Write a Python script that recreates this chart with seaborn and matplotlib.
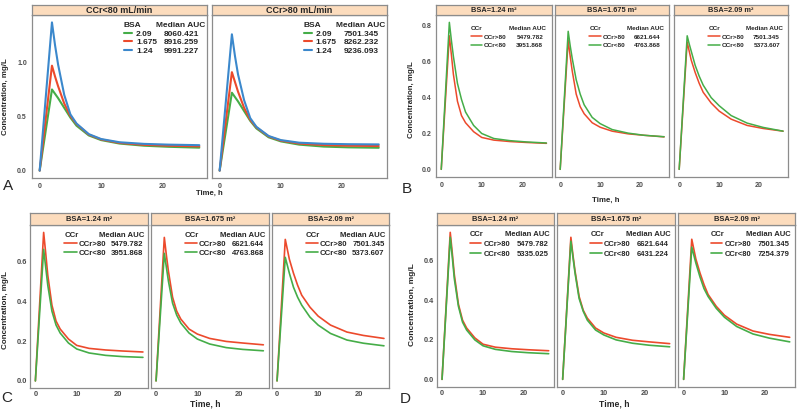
import numpy as np
import pandas as pd
import matplotlib
matplotlib.use('Agg')
import matplotlib.pyplot as plt
import seaborn as sns
from matplotlib.lines import Line2D

sns.set_style('white')
plt.rcParams['font.family'] = ['Liberation Sans', 'DejaVu Sans']
plt.rcParams['font.weight'] = 'bold'

# sampling times, h
time_h = [0, 2, 2.5, 3, 4, 5, 6, 8, 10, 13, 17, 21, 26]

# ---- panel A: curves by BSA, one facet per CCr group ----
a_titles = ['CCr<80 mL/min', 'CCr>80 mL/min']
a_groups = ['2.09', '1.675', '1.24']
a_low_209 = [0, 0.75, 0.71, 0.67, 0.58, 0.49, 0.415, 0.325, 0.282, 0.25, 0.23, 0.22, 0.212]
a_low_1675 = [0, 0.97, 0.87, 0.78, 0.62, 0.505, 0.43, 0.333, 0.288, 0.256, 0.238, 0.23, 0.224]
a_low_124 = [0, 1.37, 1.16, 0.98, 0.70, 0.52, 0.435, 0.337, 0.292, 0.262, 0.247, 0.24, 0.235]
a_high_209 = [0, 0.72, 0.68, 0.64, 0.55, 0.46, 0.39, 0.308, 0.27, 0.24, 0.222, 0.215, 0.211]
a_high_1675 = [0, 0.91, 0.82, 0.73, 0.58, 0.47, 0.40, 0.316, 0.277, 0.25, 0.236, 0.23, 0.227]
a_high_124 = [0, 1.26, 1.06, 0.89, 0.65, 0.485, 0.405, 0.32, 0.282, 0.258, 0.248, 0.244, 0.242]
a_auc_low = ['8060.421', '8916.259', '9991.227']
a_auc_high = ['7501.345', '8262.232', '9236.093']

# ---- panels B-D: curves by CCr, one facet per BSA ----
bsa_titles = ['BSA=1.24 m²', 'BSA=1.675 m²', 'BSA=2.09 m²']
ccr_groups = ['CCr>80', 'CCr<80']
high_124 = [0, 0.745, 0.64, 0.53, 0.38, 0.30, 0.26, 0.21, 0.178, 0.163, 0.155, 0.15, 0.145]
high_1675 = [0, 0.72, 0.63, 0.55, 0.42, 0.35, 0.31, 0.26, 0.235, 0.213, 0.198, 0.19, 0.181]
high_209 = [0, 0.71, 0.66, 0.61, 0.54, 0.48, 0.43, 0.37, 0.325, 0.28, 0.245, 0.228, 0.213]
auc_high = ['5479.782', '6621.644', '7501.345']

b_low_124 = [0, 0.82, 0.72, 0.63, 0.48, 0.39, 0.32, 0.245, 0.20, 0.172, 0.16, 0.153, 0.147]
b_low_1675 = [0, 0.77, 0.69, 0.62, 0.50, 0.42, 0.36, 0.29, 0.255, 0.222, 0.202, 0.19, 0.182]
b_low_209 = [0, 0.745, 0.70, 0.66, 0.58, 0.52, 0.47, 0.40, 0.355, 0.30, 0.258, 0.234, 0.213]
b_auc_low = ['3951.868', '4763.868', '5373.607']

c_low_124 = [0, 0.66, 0.57, 0.48, 0.35, 0.28, 0.24, 0.19, 0.16, 0.14, 0.128, 0.122, 0.118]
c_low_1675 = [0, 0.64, 0.57, 0.50, 0.39, 0.33, 0.29, 0.24, 0.21, 0.185, 0.167, 0.158, 0.151]
c_low_209 = [0, 0.62, 0.58, 0.54, 0.47, 0.42, 0.38, 0.32, 0.28, 0.238, 0.205, 0.189, 0.176]
c_auc_low = ['3951.868', '4763.868', '5373.607']

d_low_124 = [0, 0.72, 0.62, 0.51, 0.37, 0.29, 0.25, 0.20, 0.17, 0.152, 0.141, 0.135, 0.13]
d_low_1675 = [0, 0.70, 0.62, 0.54, 0.41, 0.345, 0.30, 0.25, 0.225, 0.20, 0.183, 0.173, 0.165]
d_low_209 = [0, 0.67, 0.63, 0.59, 0.52, 0.46, 0.42, 0.36, 0.315, 0.268, 0.23, 0.209, 0.19]
d_auc_low = ['5335.025', '6431.224', '7254.379']

GREEN, RED, BLUE = '#45ad48', '#ec4a2c', '#3b88cc'
BORDER = '#8c8c8c'
STRIP_FILL = '#fcdcbd'
TICK_TXT = '#4d4d4d'
FIG_W, FIG_H = 800, 413

fig = plt.figure(figsize=(FIG_W / 100, FIG_H / 100), dpi=100)
pending = []


def px_axes(x0, y0, x1, y1):
    # pixel box (top-left origin) -> figure fraction
    return fig.add_axes([x0 / FIG_W, 1 - y1 / FIG_H, (x1 - x0) / FIG_W, (y1 - y0) / FIG_H])


def draw_panel(facets, x_edges, strip_y, plot_y, titles, groups, colors, key_title, aucs, yticks, st):
    ymax = max(max(s) for f in facets for s in f)
    xpad = 0.05 * (max(time_h) - min(time_h))
    for i, (series, (x0, x1)) in enumerate(zip(facets, x_edges)):
        ax = px_axes(x0, plot_y[0], x1, plot_y[1])
        df = pd.DataFrame({
            'time': np.tile(time_h, len(series)),
            'conc': np.concatenate(series),
            'group': np.repeat(groups, len(time_h)),
        })
        sns.lineplot(data=df, x='time', y='conc', hue='group', hue_order=groups,
                     palette=dict(zip(groups, colors)), linewidth=st['lw'], ax=ax, legend=False)
        ax.set_xlim(min(time_h) - xpad, max(time_h) + xpad)
        ax.set_ylim(-0.05 * ymax, 1.05 * ymax)
        ax.set_xticks([0, 10, 20])
        ax.set_yticks(yticks)
        ax.set_xlabel('')
        ax.set_ylabel('')
        ax.tick_params(length=st['tick_len'], width=0.6, color=BORDER, labelsize=st['tick_fs'],
                       labelcolor=TICK_TXT, pad=st['tick_pad'])
        if i > 0:
            ax.tick_params(axis='y', left=False, labelleft=False)
        for sp in ax.spines.values():
            sp.set_color(BORDER)
            sp.set_linewidth(0.9)

        strip = px_axes(x0, strip_y[0], x1, strip_y[1])
        strip.set_facecolor(STRIP_FILL)
        strip.set_xticks([])
        strip.set_yticks([])
        for sp in strip.spines.values():
            sp.set_color(BORDER)
            sp.set_linewidth(0.9)
        strip.text(0.5, 0.45, titles[i], ha='center', va='center', fontsize=st['strip_fs'],
                   transform=strip.transAxes)

        handles = [Line2D([], [], color=c, lw=st['lw']) for c in colors]
        leg = ax.legend(handles, groups, title=key_title, loc='upper left',
                        bbox_to_anchor=(st['leg_x'], st['leg_y']), borderaxespad=0, borderpad=0,
                        frameon=False, alignment='left', handlelength=st['hl'],
                        handletextpad=st['htp'], labelspacing=st['ls'],
                        prop={'size': st['leg_fs'], 'weight': 'bold'},
                        title_fontproperties={'size': st['leg_fs'], 'weight': 'bold'})
        pending.append((ax, leg, aucs[i], st))


style_a = dict(strip_fs=6.5, tick_fs=5, leg_fs=6, lw=1.5, leg_x=0.525, leg_y=0.957, hl=1.0,
               htp=0.45, ls=0.1, head_x=0.85, val_x=0.853, ha='center', tick_len=2, tick_pad=1.5)
style_b = dict(strip_fs=5.3, tick_fs=5, leg_fs=4.6, lw=1.1, leg_x=0.3, leg_y=0.93, hl=1.8,
               htp=0.25, ls=0.45, head_x=0.79, val_x=0.81, ha='center', tick_len=2, tick_pad=1.5)
style_c = dict(strip_fs=5.4, tick_fs=5.4, leg_fs=5.6, lw=1.2, leg_x=0.29, leg_y=0.956, hl=1.6,
               htp=0.2, ls=0.2, head_x=0.97, val_x=0.96, ha='right', tick_len=1.5, tick_pad=0.8)
style_d = dict(strip_fs=5.4, tick_fs=5.3, leg_fs=5.5, lw=1.2, leg_x=0.28, leg_y=0.96, hl=1.5,
               htp=0.3, ls=0.3, head_x=0.96, val_x=0.95, ha='right', tick_len=1.5, tick_pad=0.8)

draw_panel([[a_low_209, a_low_1675, a_low_124], [a_high_209, a_high_1675, a_high_124]],
           [(31.7, 207.3), (211.7, 386.7)], (5, 15), (15, 178), a_titles, a_groups,
           [GREEN, RED, BLUE], 'BSA', [a_auc_low, a_auc_high], [0, 0.5, 1.0], style_a)
draw_panel([[high_124, b_low_124], [high_1675, b_low_1675], [high_209, b_low_209]],
           [(436, 551.7), (555, 669.3), (674, 788.3)], (5, 15), (15, 176.7), bsa_titles,
           ccr_groups, [RED, GREEN], 'CCr', [[a, b] for a, b in zip(auc_high, b_auc_low)],
           [0, 0.2, 0.4, 0.6, 0.8], style_b)
draw_panel([[high_124, c_low_124], [high_1675, c_low_1675], [high_209, c_low_209]],
           [(30, 148.3), (150.7, 268.7), (271.7, 389.3)], (213.3, 225), (225, 388.3), bsa_titles,
           ccr_groups, [RED, GREEN], 'CCr', [[a, b] for a, b in zip(auc_high, c_auc_low)],
           [0, 0.2, 0.4, 0.6], style_c)
draw_panel([[high_124, d_low_124], [high_1675, d_low_1675], [high_209, d_low_209]],
           [(436.7, 554), (557.3, 675), (678.3, 795)], (213.3, 225), (225, 386.7), bsa_titles,
           ccr_groups, [RED, GREEN], 'CCr', [[a, b] for a, b in zip(auc_high, d_auc_low)],
           [0, 0.2, 0.4, 0.6], style_d)

# axis titles and panel letters
for x, y, fs in [(209, 193, 5.6), (606, 200, 5.7), (205, 404.5, 6.2), (614, 404, 6.2)]:
    fig.text(x / FIG_W, 1 - y / FIG_H, 'Time, h', ha='center', va='center', fontsize=fs)
for x, y, fs in [(6, 97, 5.7), (411.5, 100, 5.7), (6, 310, 5.8), (413, 305, 6.0)]:
    fig.text(x / FIG_W, 1 - y / FIG_H, 'Concentration, mg/L', ha='center', va='center',
             rotation=90, fontsize=fs)
for x, y, s in [(3, 190, 'A'), (401.5, 193, 'B'), (1.5, 402, 'C'), (400, 403, 'D')]:
    fig.text(x / FIG_W, 1 - y / FIG_H, s, ha='left', va='baseline', fontsize=11,
             fontweight='normal')

# AUC column placed on the same rows as the legend entries
fig.canvas.draw()
for ax, leg, values, st in pending:
    inv = ax.transAxes.inverted()
    rows = [leg.get_title()] + leg.get_texts()
    words = ['Median AUC'] + list(values)
    for j, (t, w) in enumerate(zip(rows, words)):
        bb = t.get_window_extent()
        yc = inv.transform((0, (bb.y0 + bb.y1) / 2))[1]
        x = st['head_x'] if j == 0 else st['val_x']
        ax.text(x, yc, w, transform=ax.transAxes, ha=st['ha'], va='center',
                fontsize=st['leg_fs'], fontweight='bold')

fig.savefig('out.png', dpi=100)
